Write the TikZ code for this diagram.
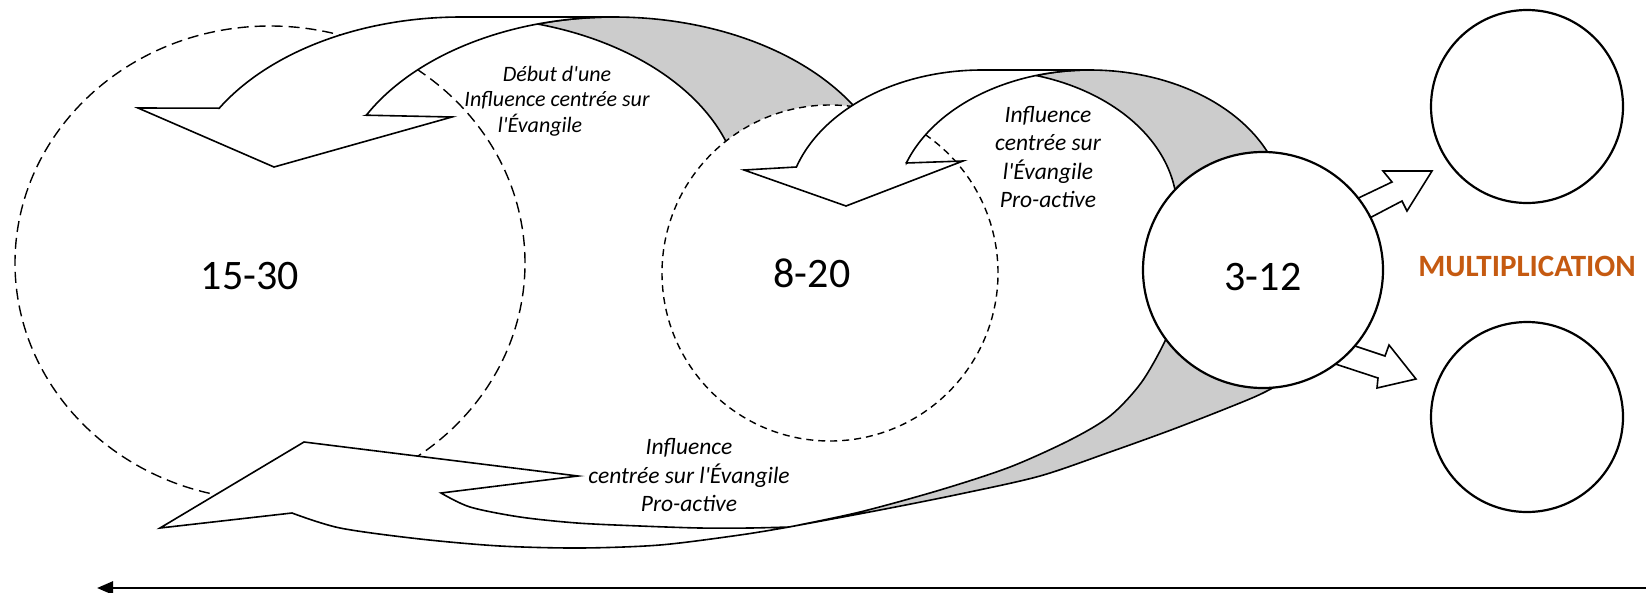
\documentclass[tikz,border=0pt]{standalone}
\usepackage{fontspec}
\setmainfont{Carlito}
\usetikzlibrary{shapes.geometric,arrows.meta}
\definecolor{backside}{RGB}{204,204,204}
\definecolor{multcol}{RGB}{197,90,17}
\newcommand\q{\textquotesingle}
% elliptical arc piece: centre (#1,#2), radii #3,#4, from angle #5 to #6 (angles counter-clockwise on the page)
\newcommand\EArcTo[6]{-- plot[samples=70,domain=0:1] ({#1+#3*cos(#5+(#6-#5)*\x)},{#2-#4*sin(#5+(#6-#5)*\x)})}
\begin{document}
\begin{tikzpicture}[x=1pt,y=-1pt,
  body/.style={draw=black,line width=1.6pt,fill=white,line join=miter},
  back/.style={draw=black,line width=1.6pt,fill=backside,line join=round},
  dashring/.style={ellipse,draw=black,fill=white,line width=1.4pt,inner sep=0pt},
  ring/.style={ellipse,draw=black,fill=white,line width=2.2pt,inner sep=0pt},
  num/.style={font=\fontsize{42}{50}\selectfont,inner sep=0pt},
  lab/.style={font=\itshape\fontsize{23.5}{28.5}\selectfont,align=center,inner sep=0pt},
  labsmall/.style={font=\itshape\fontsize{22}{25.5}\selectfont,align=center,inner sep=0pt},
  fat/.style={draw=black,line width=1.6pt,fill=white,line join=miter}]
\useasboundingbox (0,0) rectangle (1646,592);

% big dashed group 15-30
\node[dashring,dash pattern=on 11pt off 6pt,minimum width=510pt,minimum height=474pt] (g1530) at (270,263) {};

% curved arrow 1 (back side, then front)
\path[back] (537.3,24.0) \EArcTo{614}{201}{280}{184}{105.9}{10} \EArcTo{461}{201}{280}{184}{10}{74.1} -- cycle;
\path[body] (219.2,108.2) -- (138,108) -- (274,167) -- (452,117) -- (366.3,115.2)
  \EArcTo{614}{201}{280}{184}{152.2}{90} -- (461,17) \EArcTo{461}{201}{280}{184}{90}{149.7} -- cycle;

% dashed group 8-20
\node[dashring,dash pattern=on 7pt off 5pt,minimum width=336pt,minimum height=336pt] (g820) at (830,273) {};

% curved arrow 2
\path[back] (1035.9,75.5) \EArcTo{1090}{210}{195}{140}{106.1}{0} \EArcTo{982}{210}{195}{140}{0}{73.9} -- cycle;
\path[body] (796.4,167) -- (744,170) -- (846,206) -- (963,161) -- (906.3,163)
  \EArcTo{1090}{210}{195}{140}{160.4}{90} -- (982,70) \EArcTo{982}{210}{195}{140}{90}{162.1} -- cycle;

% curved arrow 3 (bottom)
\path[back] plot[smooth] coordinates {(789,527) (880,510) (960,494) (1040,476) (1110,452) (1171,430) (1225,409) (1263,393) (1300,372) (1330,350)}
  -- plot[smooth] coordinates {(1180,300) (1165,341) (1141,383) (1110,416) (1070,440) (1010,467) (940,490) (860,512) (789,527)} -- cycle;
\path[body] (292,513) -- plot[smooth] coordinates {(292,513) (340,528) (420,539) (500,546) (580,548) (660,545) (740,535) (789,527)}
  -- plot[smooth] coordinates {(789,527) (750,528) (700,528) (640,526) (577,523) (520,517) (470,507) (441,493)}
  -- (578,476) -- (304,442) -- (160,528) -- cycle;

% multiplication arrows
\path[fat] (1337.5,208) -- (1392,182) -- (1383,171) -- (1432,171) -- (1407,211) -- (1402,201) -- (1350.5,228) -- cycle;
\path[fat] (1334,339) -- (1385,356) -- (1389,345) -- (1416,379) -- (1377,388) -- (1378,378) -- (1314,357) -- cycle;

% group 3-12 and new groups
\node[ring,minimum width=240pt,minimum height=236pt] (g312) at (1263,270) {};
\node[ring,minimum width=192pt,minimum height=193pt] (gnew1) at (1527,106.5) {};
\node[ring,minimum width=192pt,minimum height=190pt] (gnew2) at (1527,417) {};

% texts
\node[num] (t1530) at (250,276) {15-30};
\node[num] (t820) at (812,273) {8-20};
\node[num] (t312) at (1263,277) {3-12};
\node[labsmall] (lab1) at (557,101) {Début d\q une\\Influence centrée sur\\l\q Évangile\hspace*{34pt}};
\node[lab] (lab2) at (1048,157) {Influence\\centrée sur\\l\q Évangile\\Pro-active};
\node[lab] (lab3) at (689,475) {Influence\\centrée sur l\q Évangile\\Pro-active};
\node[font=\bfseries\fontsize{31}{37}\selectfont,text=multcol,inner sep=0pt] (mult) at (1527,266) {MULTIPLICATION};

% time arrow
\coordinate (timeR) at (1646,588);
\coordinate (timeL) at (97,588);
\draw[line width=2.6pt,-{Triangle[length=16pt,width=13pt]}] (timeR) -- (timeL);
\end{tikzpicture}
\end{document}
